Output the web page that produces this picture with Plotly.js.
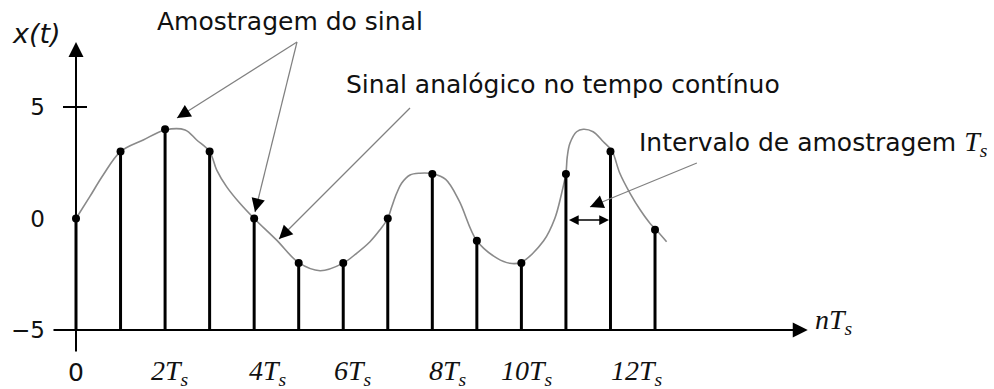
<!DOCTYPE html>
<html>
<head>
<meta charset="utf-8">
<script src="https://cdn.plot.ly/plotly-3.0.1.min.js"></script>
<style>html,body{margin:0;padding:0;background:#fff}</style>
</head>
<body>
<div id="chart" style="width:994px;height:389px"></div>
<script>
// Sample instants n (in units of Ts) and the sampled values x(nTs)
const sampleIndex = [0, 1, 2, 3, 4, 5, 6, 7, 8, 9, 10, 11, 12, 13];
const sampleValues = [0, 3, 4, 3, 0, -2, -2, 0, 2, -1, -2, 2, 3, -0.5];

// Continuous-time signal x(t), read at a set of instants (t in units of Ts)
const curveTime = [0, 0.31, 0.61, 1.0, 1.51, 2.0, 2.45, 2.71, 3.0, 3.16, 3.38, 3.68, 4.0, 4.5, 5.0,
  5.48, 6.0, 6.3, 6.6, 6.82, 7.0, 7.09, 7.2, 7.31, 7.5, 7.72, 8.02, 8.3, 8.6, 9.0, 9.45, 9.74,
  10.0, 10.5, 10.75, 10.9, 11.0, 11.03, 11.09, 11.24, 11.39, 11.61, 11.84, 12.03, 12.21, 12.44,
  12.67, 12.89, 13.01, 13.26];
const curveValues = [0, 0.98, 1.95, 3.0, 3.52, 3.97, 3.97, 3.52, 3.0, 2.17, 1.43, 0.68, 0, -0.96, -1.98,
  -2.34, -2.0, -1.56, -1.04, -0.52, 0, 0.53, 1.13, 1.58, 1.95, 2.03, 2.0, 1.75, 0.8, -1.0, -1.78, -2.01,
  -1.96, -1.0, 0.0, 1.1, 2.03, 2.77, 3.37, 3.89, 4.0, 3.89, 3.44, 3.04, 2.03, 1.13,
  0.38, -0.22, -0.47, -1.04];

// Axis ticks
const xTickValues = [0, 2, 4, 6, 8, 10, 12];
const xTickLabels = ['0', '2T<sub>s</sub>', '4T<sub>s</sub>', '6T<sub>s</sub>', '8T<sub>s</sub>',
  '10T<sub>s</sub>', '12T<sub>s</sub>'];
const yTickValues = [-5, 0, 5];
const yTickLabels = ['\u22125', '0', '5'];

// ---- geometry of the drawing ----
const W = 994, H = 389;
const margin = {l: 46, r: 0, t: 0, b: 0};
const xRange = [-0.6735, 20.611];
const yRange = [-7.646, 9.798];
const pxPerX = (W - margin.l - margin.r) / (xRange[1] - xRange[0]);
const pxPerY = (H - margin.t - margin.b) / (yRange[1] - yRange[0]);
const baseline = -5;              // level of the horizontal axis

const SANS = 'DejaVu Sans';
const SERIF = 'Liberation Serif, Times New Roman, serif';

// Stems from the time axis up to each sample
const stemX = [], stemY = [];
sampleIndex.forEach((n, i) => {
  stemX.push(n, n, null);
  stemY.push(baseline, sampleValues[i], null);
});

const traces = [
  {
    x: curveTime, y: curveValues, type: 'scatter', mode: 'lines',
    line: {color: '#8a8a8a', width: 1.6, shape: 'spline', smoothing: 1},
    hoverinfo: 'skip'
  },
  {
    x: stemX, y: stemY, type: 'scatter', mode: 'lines',
    line: {color: '#000', width: 3}, hoverinfo: 'skip'
  },
  {
    x: sampleIndex, y: sampleValues, type: 'scatter', mode: 'markers',
    marker: {color: '#000', size: 8}, hoverinfo: 'skip'
  }
];

// Point a short distance (in pixels) back from an arrow tip towards its tail
function backFromTip(tip, tail, px) {
  const dx = (tail[0] - tip[0]) * pxPerX, dy = (tail[1] - tip[1]) * pxPerY;
  const f = px / Math.hypot(dx, dy);
  return [tip[0] + (tail[0] - tip[0]) * f, tip[1] + (tail[1] - tip[1]) * f];
}

// Pointer lines (grey shaft, black head)
const pointers = [
  {tail: [4.962, 7.915], tip: [2.268, 4.507]},   // Amostragem -> sample 2
  {tail: [4.962, 7.915], tip: [4.019, 0.291]},   // Amostragem -> sample 4
  {tail: [7.499, 4.955], tip: [4.558, -0.919]},  // Sinal analógico -> curve
  {tail: [13.94, 2.489], tip: [11.54, 0.516]}    // Intervalo -> Ts marker
];

const shapes = [
  // tick mark at x = 5 on the vertical axis
  {type: 'line', xref: 'x', yref: 'y', x0: -0.292, x1: 0.247, y0: 5, y1: 5,
   line: {color: '#000', width: 2}}
];
pointers.forEach(p => {
  shapes.push({type: 'line', xref: 'x', yref: 'y', x0: p.tail[0], y0: p.tail[1],
    x1: p.tip[0], y1: p.tip[1], line: {color: '#808080', width: 1.2}, layer: 'above'});
});

const annotations = [];

// Axes with arrow heads
annotations.push({x: 0, y: 7.915, ax: 0, ay: -6.03, xref: 'x', yref: 'y', axref: 'x', ayref: 'y',
  text: '', showarrow: true, arrowhead: 2, arrowsize: 1.5, arrowwidth: 2, arrowcolor: '#000'});
annotations.push({x: 16.43, y: baseline, ax: -0.539, ay: baseline, xref: 'x', yref: 'y', axref: 'x', ayref: 'y',
  text: '', showarrow: true, arrowhead: 2, arrowsize: 1.5, arrowwidth: 2, arrowcolor: '#000'});

// Heads of the pointer lines
pointers.forEach(p => {
  const t = backFromTip(p.tip, p.tail, 14);
  annotations.push({x: p.tip[0], y: p.tip[1], ax: t[0], ay: t[1], xref: 'x', yref: 'y',
    axref: 'x', ayref: 'y', text: '', showarrow: true, arrowhead: 2, arrowsize: 2.7,
    arrowwidth: 1, arrowcolor: '#000'});
});

// Sampling interval marker between samples 11 and 12
annotations.push({x: 12, y: -0.07, ax: 11, ay: -0.07, xref: 'x', yref: 'y', axref: 'x', ayref: 'y',
  text: '', showarrow: true, arrowside: 'end+start', arrowhead: 2, startarrowhead: 2,
  arrowsize: 1.3, startarrowsize: 1.3, arrowwidth: 1.5, standoff: 1.5, startstandoff: 1.5,
  arrowcolor: '#000'});

// Time-axis tick labels
const tickShift = [0, 5, 14, 10, 16, 6, 27];
xTickValues.forEach((v, i) => {
  const isZero = i === 0;
  annotations.push({
    x: v, y: -6.15, xref: 'x', yref: 'y', xanchor: 'center', yanchor: 'top',
    xshift: tickShift[i], yshift: isZero ? 0 : 3,
    text: xTickLabels[i], showarrow: false,
    font: isZero ? {family: SANS, size: 25, color: '#111'}
                 : {family: SERIF, size: 28, color: '#111', style: 'italic'}
  });
});

// Axis names
annotations.push({x: (36 - margin.l) / (W - margin.l - margin.r), y: 9.06, xref: 'paper', yref: 'y',
  xanchor: 'center', yanchor: 'top',
  text: 'x(t)', showarrow: false, font: {family: SANS, size: 27, color: '#111', style: 'italic'}});
annotations.push({x: 16.547, y: -3.744, xref: 'x', yref: 'y', xanchor: 'left', yanchor: 'top',
  text: 'nT<sub>s</sub>', showarrow: false, font: {family: SERIF, size: 28, color: '#111', style: 'italic'}});

// Descriptive labels
annotations.push({x: 4.805, y: 9.561, xref: 'x', yref: 'y', xanchor: 'center', yanchor: 'top',
  text: 'Amostragem do sinal', showarrow: false, font: {family: SANS, size: 25, color: '#111'}});
annotations.push({x: 10.923, y: 6.758, xref: 'x', yref: 'y', xanchor: 'center', yanchor: 'top',
  text: 'Sinal analógico no tempo contínuo', showarrow: false,
  font: {family: SANS, size: 25, color: '#111'}});
annotations.push({x: 12.597, y: 4.233, xref: 'x', yref: 'y', xanchor: 'left', yanchor: 'top',
  text: 'Intervalo de amostragem <span style="font-family:\'Liberation Serif\',serif;font-style:italic;font-size:28px">T<sub>s</sub></span>',
  showarrow: false, font: {family: SANS, size: 25, color: '#111'}});

const layout = {
  width: W, height: H, margin: margin,
  paper_bgcolor: '#fff', plot_bgcolor: '#fff',
  showlegend: false,
  xaxis: {range: xRange, visible: false, fixedrange: true},
  yaxis: {
    range: yRange, tickvals: yTickValues, ticktext: yTickLabels,
    showgrid: false, zeroline: false, showline: false, ticks: '',
    ticklabelstandoff: 0,
    tickfont: {family: SANS, size: 23, color: '#111'}, fixedrange: true
  },
  shapes: shapes,
  annotations: annotations
};

Plotly.newPlot('chart', traces, layout, {staticPlot: true, displayModeBar: false});
</script>
</body>
</html>
